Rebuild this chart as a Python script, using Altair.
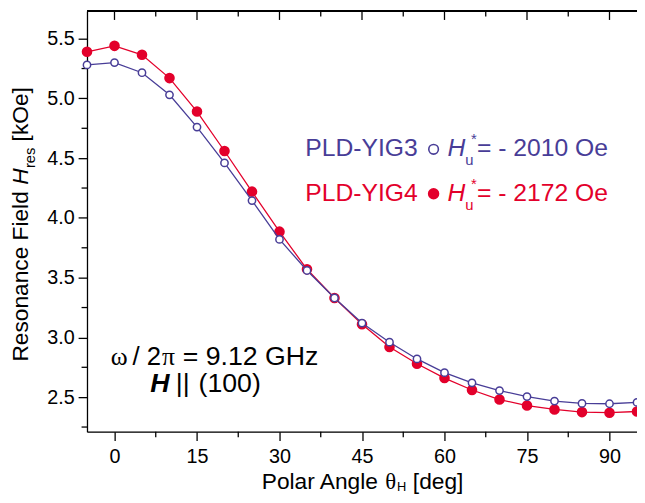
import altair as alt
import pandas as pd

# ---------------- data ----------------
angles = [-5, 0, 5, 10, 15, 20, 25, 30, 35, 40, 45, 50, 55, 60, 65, 70, 75, 80, 85, 90, 95]
yig3 = [5.28, 5.30, 5.215, 5.03, 4.76, 4.46, 4.145, 3.82, 3.56, 3.33, 3.12, 2.96,
        2.82, 2.705, 2.62, 2.555, 2.505, 2.467, 2.448, 2.445, 2.456]
yig4 = [5.39, 5.44, 5.365, 5.17, 4.89, 4.56, 4.22, 3.885, 3.57, 3.33, 3.11, 2.92,
        2.78, 2.66, 2.56, 2.48, 2.43, 2.397, 2.375, 2.37, 2.38]

x_major = [0, 15, 30, 45, 60, 75, 90]
x_minor = [7.5, 22.5, 37.5, 52.5, 67.5, 82.5]
y_major = [2.5, 3.0, 3.5, 4.0, 4.5, 5.0, 5.5]
y_minor = [2.25, 2.75, 3.25, 3.75, 4.25, 4.75, 5.25]

BLUE = "#483d97"
RED = "#e3002b"
SANS = "Liberation Sans"
SERIF = "Liberation Serif"

W, H = 557, 426

df = pd.DataFrame({"angle": angles, "yig3": yig3, "yig4": yig4})

xs = alt.Scale(domain=[-5, 95], nice=False, zero=False)
ys = alt.Scale(domain=[2.211, 5.731], nice=False, zero=False)

xaxis = alt.Axis(values=x_major, title=None, grid=False, tickSize=9, tickWidth=1.3,
                 tickColor="black", domainColor="black", domainWidth=1.3,
                 labelFont=SANS, labelFontSize=20, labelColor="black", labelPadding=6,
                 format="d")
yaxis = alt.Axis(values=y_major, title=None, grid=False, tickSize=9, tickWidth=1.3,
                 tickColor="black", domainColor="black", domainWidth=1.3,
                 labelFont=SANS, labelFontSize=20, labelColor="black", labelPadding=4,
                 format=".1f")


def X(f):
    return alt.X(f, type="quantitative", scale=xs, axis=xaxis)


def Y(f):
    return alt.Y(f, type="quantitative", scale=ys, axis=yaxis)


layers = []

# minor ticks and top ticks
xmin_df = pd.DataFrame({"v": x_minor})
xmaj_df = pd.DataFrame({"v": x_major})
ymin_df = pd.DataFrame({"v": y_minor})

layers.append(alt.Chart(xmin_df).mark_rule(color="black", strokeWidth=1.3).encode(
    x=X("v"), y=alt.value(H), y2=alt.value(H + 5.5)))
layers.append(alt.Chart(xmin_df).mark_rule(color="black", strokeWidth=1.3).encode(
    x=X("v"), y=alt.value(0), y2=alt.value(5.5)))
layers.append(alt.Chart(xmaj_df).mark_rule(color="black", strokeWidth=1.3).encode(
    x=X("v"), y=alt.value(0), y2=alt.value(9)))
layers.append(alt.Chart(ymin_df).mark_rule(color="black", strokeWidth=1.3).encode(
    y=Y("v"), x=alt.value(-5.5), x2=alt.value(0)))
# top frame line
layers.append(alt.Chart(xmaj_df).mark_rule(color="black", strokeWidth=1.3).encode(
    x=alt.value(0), x2=alt.value(W + 5), y=alt.value(0)))

# series
layers.append(alt.Chart(df).mark_line(color=RED, strokeWidth=1.3).encode(x=X("angle"), y=Y("yig4")))
layers.append(alt.Chart(df).mark_point(shape="circle", filled=True, color=RED, size=115, opacity=1,
                                       strokeWidth=0).encode(x=X("angle"), y=Y("yig4")))
layers.append(alt.Chart(df).mark_line(color=BLUE, strokeWidth=1.3).encode(x=X("angle"), y=Y("yig3")))
layers.append(alt.Chart(df).mark_point(shape="circle", filled=True, fill="white", stroke=BLUE,
                                       strokeWidth=1.5, size=55, opacity=1).encode(
    x=X("angle"), y=Y("yig3")))


def txt(s, x, y, size, color="black", font=SANS, style="normal", weight="normal", angle=0):
    return alt.Chart(alt.Data(values=[{"t": s}])).mark_text(
        text=s, align="left", baseline="alphabetic", font=font, fontSize=size,
        fontStyle=style, fontWeight=weight, color=color, angle=angle
    ).encode(x=alt.value(x), y=alt.value(y))


# legend-like annotation
L1, L2 = 147, 192
for (label, hu, col, filled, base) in [("PLD-YIG3", "= - 2010 Oe", BLUE, False, L1),
                                        ("PLD-YIG4", "= - 2172 Oe", RED, True, L2)]:
    layers.append(txt(label, 221, base, 25, col))
    if filled:
        mk = alt.Chart(alt.Data(values=[{"k": 1}])).mark_point(
            shape="circle", filled=True, color=col, size=135, opacity=1, strokeWidth=0)
    else:
        mk = alt.Chart(alt.Data(values=[{"k": 1}])).mark_point(
            shape="circle", filled=False, stroke=col, strokeWidth=1.6, size=95, opacity=1)
    layers.append(mk.encode(x=alt.value(351), y=alt.value(base - 7)))
    layers.append(txt("H", 365, base, 25, col, style="italic"))
    layers.append(txt("u", 383, base + 9, 15, col))
    layers.append(txt("*", 389, base - 12, 15, col))
    layers.append(txt(hu, 395, base, 25, col))

# frequency / field annotation
A1, A2 = 358, 386
layers.append(txt("\u03c9", 24, A1, 26, font=SERIF))
layers.append(txt("/ 2", 46, A1, 26))
layers.append(txt("\u03c0", 76, A1, 26, font=SERIF))
layers.append(txt("= 9.12 GHz", 97, A1, 27))
layers.append(txt("H", 64, A2, 27, style="italic", weight="bold"))
layers.append(txt("||", 90, A2, 27))
layers.append(txt("(100)", 113, A2, 27))

# x axis title
XT = 484
layers.append(txt("Polar Angle", 177, XT, 23))
layers.append(txt("\u03b8", 302, XT, 23, font=SERIF))
layers.append(txt("H", 314, XT + 2, 13))
layers.append(txt("[deg]", 330, XT, 23))

# y axis title (rotated, reading upward)
YB = -60
layers.append(txt("Resonance Field", YB, 355, 23, angle=270))
layers.append(txt("H", YB, 176, 23, style="italic", angle=270))
layers.append(txt("res", YB + 7, 159, 15, angle=270))
layers.append(txt("[kOe]", YB, 132, 23, angle=270))

chart = alt.layer(*layers).properties(
    width=W, height=H,
    autosize=alt.AutoSizeParams(type="none"),
    padding={"left": 80, "top": 0, "right": 0, "bottom": 61},
).configure_view(stroke=None).configure(background="white")

chart.save("out.html", embed_options={"renderer": "svg", "actions": False})
